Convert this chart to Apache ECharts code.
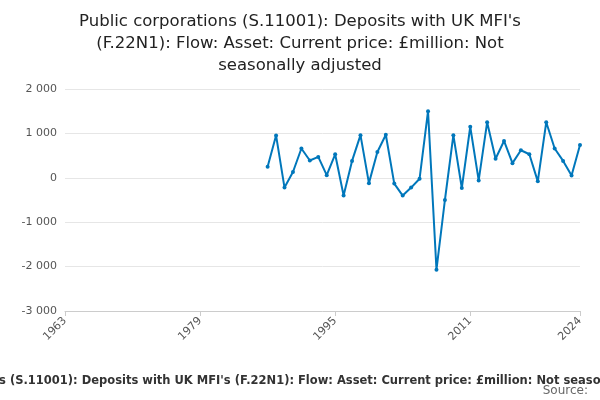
<!DOCTYPE html>
<html>
<head>
<meta charset="utf-8">
<script src="https://cdn.jsdelivr.net/npm/echarts@6/dist/echarts.min.js"></script>
<style>html,body{margin:0;padding:0;}#chart{width:600px;height:400px;}</style>
</head>
<body>
<div id="chart"></div>
<script>
// 年份与数值
const years = [1987, 1988, 1989, 1990, 1991, 1992, 1993, 1994, 1995, 1996, 1997, 1998, 1999, 2000,
    2001, 2002, 2003, 2004, 2005, 2006, 2007, 2008, 2009, 2010, 2011, 2012, 2013, 2014, 2015,
    2016, 2017, 2018, 2019, 2020, 2021, 2022, 2023, 2024];
const values = [250, 955, -220, 130, 660, 390, 470, 60, 530, -400, 380, 960, -120, 580,
    970, -130, -400, -220, -20, 1500, -2070, -500, 960, -230, 1150, -60, 1250, 430, 830,
    330, 620, 530, -80, 1250, 660, 380, 50, 740];
const xTicks = [1963, 1979, 1995, 2011, 2024];

const chart = echarts.init(document.getElementById('chart'));
const fmt = v => {
    const s = Math.abs(v).toString().replace(/\B(?=(\d{3})+(?!\d))/g, ' ');
    return (v < 0 ? '-' : '') + s;
};

chart.setOption({
    title: {
        text: "Public corporations (S.11001): Deposits with UK MFI's\n(F.22N1): Flow: Asset: Current price: £million: Not\nseasonally adjusted",
        left: 'center',
        top: 6,
        textStyle: { fontFamily: 'DejaVu Sans', fontSize: 16.5, fontWeight: 'normal', color: '#222', lineHeight: 22 }
    },
    grid: { left: 65, right: 20, top: 89, bottom: 89 },
    xAxis: {
        type: 'value',
        min: 1963,
        max: 2024,
        axisLabel: {
            rotate: 45,
            color: '#555',
            fontFamily: 'DejaVu Sans',
            fontSize: 11,
            customValues: xTicks,
            formatter: v => String(v)
        },
        axisTick: { customValues: xTicks, lineStyle: { color: '#ccc' } },
        axisLine: { onZero: false, lineStyle: { color: '#ccc' } },
        splitLine: { show: false }
    },
    yAxis: {
        type: 'value',
        min: -3000,
        max: 2000,
        interval: 1000,
        axisLabel: { color: '#555', fontFamily: 'DejaVu Sans', fontSize: 11, formatter: fmt },
        axisLine: { show: false },
        axisTick: { show: false },
        splitLine: { lineStyle: { color: '#e6e6e6' } }
    },
    series: [{
        type: 'line',
        data: years.map((y, i) => [y, values[i]]),
        symbol: 'circle',
        symbolSize: 4,
        lineStyle: { color: '#0077bb', width: 2 },
        itemStyle: { color: '#0077bb' }
    }],
    graphic: [
        {
            type: 'text', left: -120, top: 375,
            style: {
                text: "Public corporations (S.11001): Deposits with UK MFI's (F.22N1): Flow: Asset: Current price: £million: Not seasonally adjusted",
                font: 'bold 11.5px DejaVu Sans', fill: '#333'
            }
        },
        {
            type: 'text', right: 12, top: 385,
            style: { text: 'Source:', font: '12px DejaVu Sans', fill: '#666' }
        }
    ]
});
</script>
</body>
</html>
